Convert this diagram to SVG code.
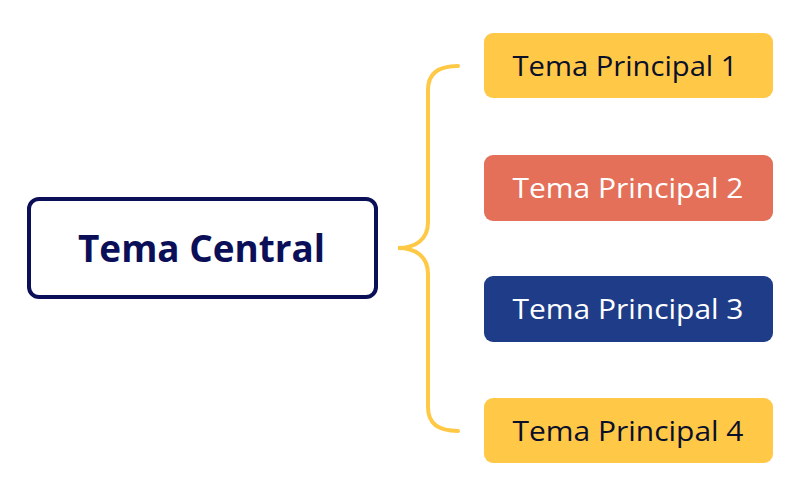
<svg xmlns="http://www.w3.org/2000/svg" width="800" height="496" viewBox="0 0 800 496">
<style>
.t{font-family:"Open Sans","Noto Sans",sans-serif;text-anchor:middle}
.sub{font-size:28px;font-weight:500}
.dark{fill:#0a0f2a}
.light{fill:#ffffff}
</style>
<rect width="800" height="496" fill="#ffffff"/>
<g id="connectors">
<path d="M458,66 C440,66 428,72 428,90 L428,222 C428,240 415,248 398,248 C415,248 428,256 428,274 L428,407 C428,425 440,431 458,431" fill="none" stroke="#ffc845" stroke-width="4" stroke-linecap="round"/>
</g>
<g id="central">
<rect x="29" y="199" width="347" height="98" rx="10" fill="#ffffff" stroke="#0b0f58" stroke-width="4"/>
<text class="t" x="201.5" y="262" font-size="37" font-weight="700" fill="#0b0f58" textLength="247" lengthAdjust="spacingAndGlyphs">Tema Central</text>
</g>
<g id="main1">
<rect x="484" y="33" width="289" height="65" rx="9" fill="#ffc846"/>
<text class="t sub dark" x="625" y="76" textLength="225" lengthAdjust="spacingAndGlyphs">Tema Principal 1</text>
</g>
<g id="main2">
<rect x="484" y="155" width="289" height="66" rx="9" fill="#e4705a"/>
<text class="t sub light" x="628" y="198" textLength="231" lengthAdjust="spacingAndGlyphs">Tema Principal 2</text>
</g>
<g id="main3">
<rect x="484" y="276" width="289" height="66" rx="9" fill="#1f3c88"/>
<text class="t sub light" x="628" y="319" textLength="231" lengthAdjust="spacingAndGlyphs">Tema Principal 3</text>
</g>
<g id="main4">
<rect x="484" y="398" width="289" height="65" rx="9" fill="#ffc846"/>
<text class="t sub dark" x="628" y="441" textLength="231" lengthAdjust="spacingAndGlyphs">Tema Principal 4</text>
</g>
</svg>
